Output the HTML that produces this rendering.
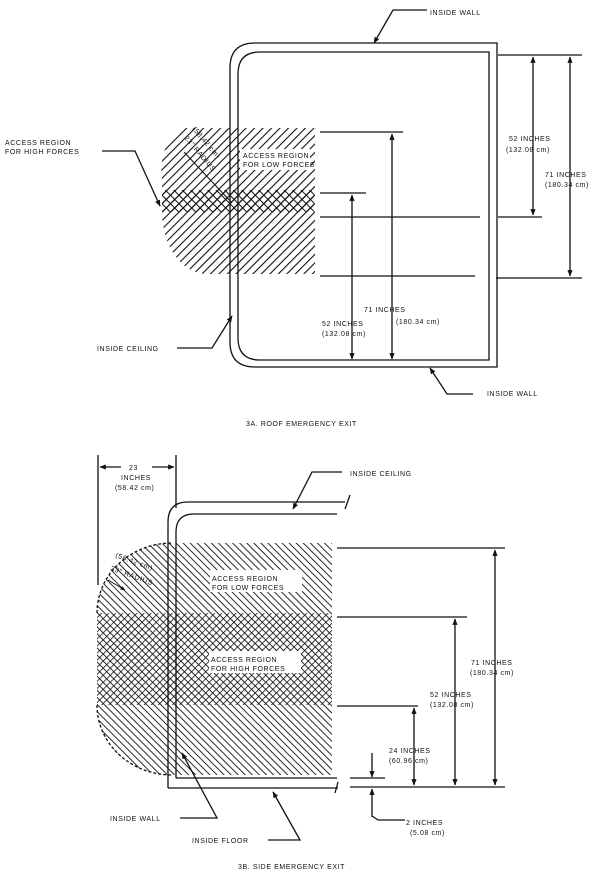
<!DOCTYPE html>
<html><head><meta charset="utf-8"><style>
html,body{margin:0;padding:0;background:#fff}
svg{display:block}
text{font-family:"Liberation Sans",sans-serif;font-size:7px;fill:#111;letter-spacing:0.6px}
</style></head><body>
<svg width="600" height="879" viewBox="0 0 600 879" xmlns="http://www.w3.org/2000/svg">
<defs>
<pattern id="fw" width="6" height="6" patternUnits="userSpaceOnUse" patternTransform="rotate(45)">
<line x1="0" y1="0" x2="0" y2="6" stroke="#111" stroke-width="2.2"/></pattern>
<pattern id="bk" width="5" height="5" patternUnits="userSpaceOnUse" patternTransform="rotate(-45)">
<line x1="0" y1="0" x2="0" y2="5" stroke="#111" stroke-width="1.8"/></pattern>
<pattern id="bk2" width="5" height="5" patternUnits="userSpaceOnUse" patternTransform="rotate(45)">
<line x1="0" y1="0" x2="0" y2="5" stroke="#111" stroke-width="1.6"/></pattern>
<pattern id="x1" width="6" height="6" patternUnits="userSpaceOnUse" patternTransform="rotate(-45)">
<line x1="0" y1="0" x2="0" y2="6" stroke="#111" stroke-width="2"/></pattern>
<marker id="ar" viewBox="0 0 10 10" refX="9" refY="5" markerWidth="5" markerHeight="6" orient="auto-start-reverse">
<path d="M0,1 L10,5 L0,9 z" fill="#111"/></marker>
</defs>
<g stroke="#111" fill="none" stroke-width="1.3">
<!-- 3A hatch -->
<path d="M180,128 L315,128 L315,274 L205,274 A45,62 0 0 1 162,212 L162,180 A40,50 0 0 1 180,128 Z" fill="url(#fw)" stroke="none"/>
<rect x="162" y="190" width="152" height="22" fill="url(#x1)" stroke="none"/>
<rect x="162" y="190" width="152" height="22" fill="url(#fw)" stroke="none"/>
<rect x="240" y="149" width="70" height="21" fill="#fff" stroke="none"/>
<!-- 3A frame -->
<path d="M255,43 L497,43 L497,367 L255,367 Q230,367 230,342 L230,68 Q230,43 255,43 Z"/>
<path d="M260,52 L489,52 L489,360 L260,360 Q238,360 238,338 L238,74 Q238,52 260,52 Z"/>
<!-- 3A dimension lines -->
<line x1="320" y1="132" x2="403" y2="132"/>
<line x1="320" y1="193" x2="366" y2="193"/>
<line x1="320" y1="217" x2="480" y2="217"/>
<line x1="320" y1="276" x2="475" y2="276"/>
<line x1="498" y1="55" x2="582" y2="55"/>
<line x1="498" y1="217" x2="542" y2="217"/>
<line x1="496" y1="278" x2="582" y2="278"/>
<line x1="392" y1="134" x2="392" y2="359" marker-start="url(#ar)" marker-end="url(#ar)"/>
<line x1="352" y1="195" x2="352" y2="359" marker-start="url(#ar)" marker-end="url(#ar)"/>
<line x1="533" y1="57" x2="533" y2="215" marker-start="url(#ar)" marker-end="url(#ar)"/>
<line x1="570" y1="57" x2="570" y2="276" marker-start="url(#ar)" marker-end="url(#ar)"/>
<line x1="184" y1="152" x2="232" y2="203" stroke-width="1"/>
<!-- 3A leaders -->
<polyline points="427,10 393,10 374,43" marker-end="url(#ar)"/>
<polyline points="102,151 135,151 160,206" marker-end="url(#ar)"/>
<polyline points="177,348 212,348 232,316" marker-end="url(#ar)"/>
<polyline points="473,394 447,394 430,368" marker-end="url(#ar)"/>
<!-- 3B hatch -->
<path d="M172,543 L332,543 L332,775 L172,775 A75,70 0 0 1 97,705 L97,613 A75,70 0 0 1 172,543 Z" fill="url(#bk)" stroke="none"/>
<rect x="97" y="613" width="235" height="92" fill="url(#bk2)" stroke="none"/>
<rect x="210" y="570" width="92" height="22" fill="#fff" stroke="none"/>
<rect x="209" y="651" width="92" height="22" fill="#fff" stroke="none"/>
<path d="M97,613 A75,70 0 0 1 172,543 M97,705 A75,70 0 0 0 172,775" stroke-dasharray="3,2"/>
<!-- 3B wall -->
<path d="M168,788 L168,522 Q168,502 188,502 L345,502"/>
<path d="M176,778 L176,532 Q176,514 194,514 L337,514"/>
<path d="M168,788 L338,788 M176,778 L337,778"/>
<line x1="350" y1="778" x2="385" y2="778"/>
<line x1="350" y1="495" x2="345" y2="509"/>
<line x1="338" y1="782" x2="335" y2="793"/>
<!-- 3B dims -->
<line x1="98" y1="455" x2="98" y2="585"/>
<line x1="176" y1="455" x2="176" y2="508"/>
<line x1="100" y1="467" x2="121" y2="467" marker-start="url(#ar)"/>
<line x1="152" y1="467" x2="174" y2="467" marker-end="url(#ar)"/>
<line x1="337" y1="548" x2="505" y2="548"/>
<line x1="337" y1="617" x2="467" y2="617"/>
<line x1="337" y1="706" x2="418" y2="706"/>
<line x1="350" y1="787" x2="505" y2="787"/>
<line x1="495" y1="550" x2="495" y2="785" marker-start="url(#ar)" marker-end="url(#ar)"/>
<line x1="455" y1="619" x2="455" y2="785" marker-start="url(#ar)" marker-end="url(#ar)"/>
<line x1="414" y1="708" x2="414" y2="785" marker-start="url(#ar)" marker-end="url(#ar)"/>
<line x1="372" y1="753" x2="372" y2="777" marker-end="url(#ar)"/>
<line x1="372" y1="817" x2="372" y2="789" marker-end="url(#ar)"/>
<polyline points="372,816 378,820 405,820"/>
<line x1="108" y1="580" x2="125" y2="590" marker-end="url(#ar)" stroke-width="1"/>
<!-- 3B leaders -->
<polyline points="342,472 312,472 293,509" marker-end="url(#ar)"/>
<polyline points="180,818 217,818 182,753" marker-end="url(#ar)"/>
<polyline points="268,840 300,840 273,792" marker-end="url(#ar)"/>
</g>
<g>
<text x="430" y="15">INSIDE WALL</text>
<text x="5" y="145">ACCESS REGION</text>
<text x="5" y="154">FOR HIGH FORCES</text>
<text x="243" y="158">ACCESS REGION</text>
<text x="243" y="167">FOR LOW FORCES</text>
<text x="192" y="129" transform="rotate(50 192 129)">(58.42 cm)</text>
<text x="184" y="138" transform="rotate(50 184 138)">23" RADIUS</text>
<text x="509" y="141">52 INCHES</text>
<text x="506" y="152">(132.08 cm)</text>
<text x="545" y="177">71 INCHES</text>
<text x="545" y="187">(180.34 cm)</text>
<text x="364" y="312">71 INCHES</text>
<text x="396" y="324">(180.34 cm)</text>
<text x="322" y="326">52 INCHES</text>
<text x="322" y="336">(132.08 cm)</text>
<text x="97" y="351">INSIDE CEILING</text>
<text x="487" y="396">INSIDE WALL</text>
<text x="246" y="426">3A. ROOF EMERGENCY EXIT</text>
<text x="129" y="470">23</text>
<text x="121" y="480">INCHES</text>
<text x="115" y="490">(58.42 cm)</text>
<text x="350" y="476">INSIDE CEILING</text>
<text x="212" y="581">ACCESS REGION</text>
<text x="212" y="590">FOR LOW FORCES</text>
<text x="211" y="662">ACCESS REGION</text>
<text x="211" y="671">FOR HIGH FORCES</text>
<text x="115" y="557" transform="rotate(20 115 557)">(58.42 cm)</text>
<text x="110" y="570" transform="rotate(20 110 570)">23" RADIUS</text>
<text x="471" y="665">71 INCHES</text>
<text x="470" y="675">(180.34 cm)</text>
<text x="430" y="697">52 INCHES</text>
<text x="430" y="707">(132.08 cm)</text>
<text x="389" y="753">24 INCHES</text>
<text x="389" y="763">(60.96 cm)</text>
<text x="110" y="821">INSIDE WALL</text>
<text x="192" y="843">INSIDE FLOOR</text>
<text x="406" y="825">2 INCHES</text>
<text x="410" y="835">(5.08 cm)</text>
<text x="238" y="869">3B. SIDE EMERGENCY EXIT</text>
</g>
</svg>
</body></html>
